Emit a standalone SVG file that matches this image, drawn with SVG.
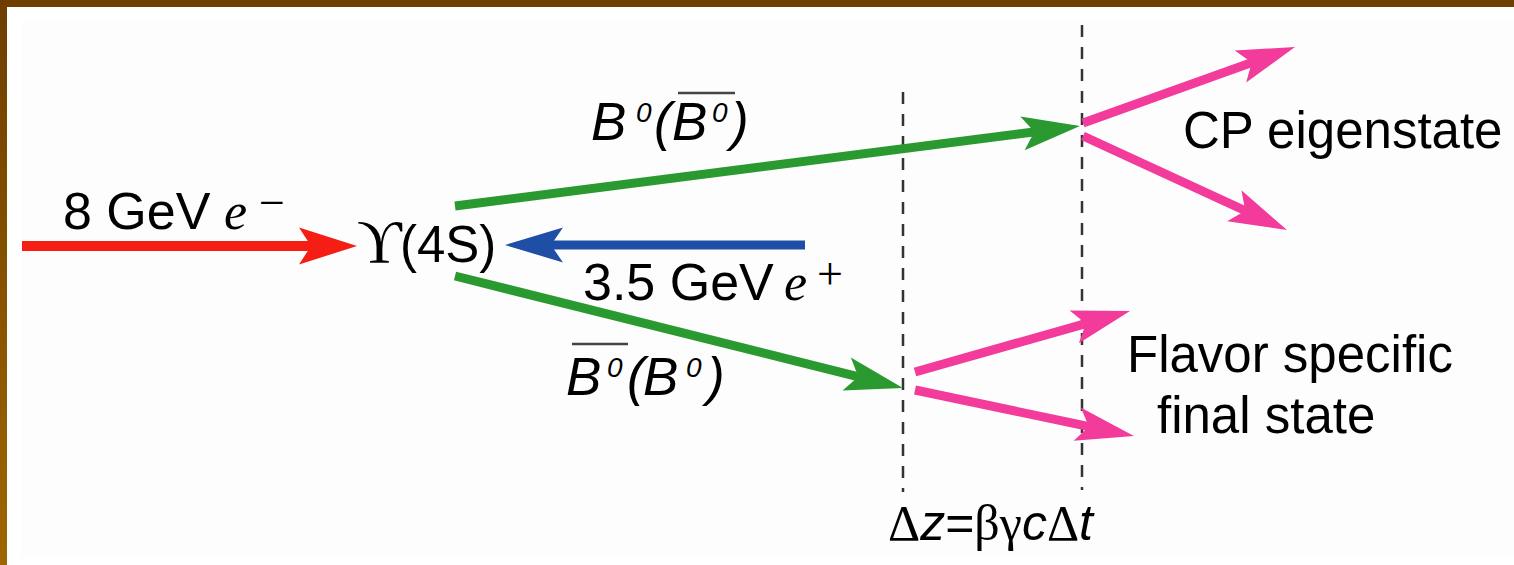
<svg xmlns="http://www.w3.org/2000/svg" width="1514" height="565" viewBox="0 0 1514 565">
<defs>
<linearGradient id="lg" x1="0" y1="0" x2="0" y2="1"><stop offset="0" stop-color="#6E3E00"/><stop offset="1" stop-color="#9E6600"/></linearGradient>
<marker id="hr" markerUnits="userSpaceOnUse" viewBox="-40 -20 70 40" refX="0" refY="0" markerWidth="70" markerHeight="40" orient="auto" overflow="visible"><path d="M25,0 L-33,-18.5 L-21,0 L-33,18.5 Z" fill="#F41E14"/></marker>
<marker id="hb" markerUnits="userSpaceOnUse" viewBox="-40 -20 70 40" refX="0" refY="0" markerWidth="70" markerHeight="40" orient="auto" overflow="visible"><path d="M25,0 L-33,-17.5 L-21,0 L-33,17.5 Z" fill="#1F4EA6"/></marker>
<marker id="hg" markerUnits="userSpaceOnUse" viewBox="-40 -20 70 40" refX="0" refY="0" markerWidth="70" markerHeight="40" orient="auto" overflow="visible"><path d="M25,0 L-33,-17 L-21,0 L-33,17 Z" fill="#2A9A30"/></marker>
<marker id="hp" markerUnits="userSpaceOnUse" viewBox="-40 -20 70 40" refX="0" refY="0" markerWidth="70" markerHeight="40" orient="auto" overflow="visible"><path d="M25,0 L-33,-17 L-21,0 L-33,17 Z" fill="#F23B9B"/></marker>
</defs>
<style>
.sans{font-family:"Liberation Sans",Arial,sans-serif;fill:#000}
.serif{font-family:"Liberation Serif","Times New Roman","DejaVu Serif",serif;fill:#000}
.it{font-style:italic}
.dash{stroke:#333;stroke-width:2.5;stroke-dasharray:12 10;fill:none}
.ov{stroke:#444;stroke-width:2.5}
.red{stroke:#F41E14;stroke-width:10;fill:none}
.blue{stroke:#1F4EA6;stroke-width:9;fill:none}
.green{stroke:#2A9A30;stroke-width:9;fill:none}
.pink{stroke:#F23B9B;stroke-width:9;fill:none}
</style>
<rect x="0" y="0" width="1514" height="565" fill="#FFFFFF"/>
<rect x="21" y="22" width="1493" height="535" fill="#FDFDFD"/>
<rect x="0" y="0" width="1514" height="7" fill="#6F3F00"/>
<rect x="0" y="0" width="7" height="565" fill="url(#lg)"/>

<g id="guides">
<line class="dash" x1="903" y1="92" x2="903" y2="492"/>
<line class="dash" x1="1082" y1="25" x2="1082" y2="490"/>
</g>

<g id="connectors">
<line class="red" x1="22" y1="246" x2="332" y2="246" marker-end="url(#hr)"/>
<line class="blue" x1="805" y1="245" x2="530" y2="245" marker-end="url(#hb)"/>
<line class="green" x1="455" y1="206" x2="1055.2" y2="129.2" marker-end="url(#hg)"/>
<line class="green" x1="455" y1="276" x2="878.7" y2="381.9" marker-end="url(#hg)"/>
<line class="pink" x1="1083" y1="123" x2="1271.5" y2="55.4" marker-end="url(#hp)"/>
<line class="pink" x1="1083" y1="136" x2="1264.3" y2="219.5" marker-end="url(#hp)"/>
<line class="pink" x1="915" y1="372" x2="1106" y2="317.8" marker-end="url(#hp)"/>
<line class="pink" x1="915" y1="390" x2="1109.5" y2="430.9" marker-end="url(#hp)"/>
</g>

<g id="electron">
<text class="sans" x="63" y="229" font-size="52">8 GeV</text>
<text class="serif it" x="224" y="229" font-size="52">e</text>
<text class="serif" x="259" y="218" font-size="46">−</text>
</g>

<g id="upsilon">
<text class="serif" x="357" y="262" font-size="62">ϒ</text>
<text class="sans" x="400" y="262" font-size="51">(4S)</text>
</g>

<g id="positron">
<text class="sans" x="583" y="300" font-size="52">3.5 GeV</text>
<text class="serif it" x="784" y="300" font-size="52">e</text>
<text class="serif" x="817" y="289" font-size="46">+</text>
</g>

<g id="b-upper">
<text class="sans it" x="591" y="140" font-size="53">B</text>
<text class="sans it" x="636" y="122" font-size="28">0</text>
<text class="sans it" x="654" y="140" font-size="53">(</text>
<text class="sans it" x="672" y="140" font-size="53">B</text>
<text class="sans it" x="712" y="122" font-size="28">0</text>
<text class="sans it" x="731" y="140" font-size="53">)</text>
<line class="ov" x1="678" y1="93" x2="735" y2="93"/>
</g>

<g id="b-lower">
<line class="ov" x1="572" y1="344" x2="628" y2="344"/>
<text class="sans it" x="566" y="395" font-size="53">B</text>
<text class="sans it" x="607" y="377" font-size="28">0</text>
<text class="sans it" x="627" y="395" font-size="53">(</text>
<text class="sans it" x="643" y="395" font-size="53">B</text>
<text class="sans it" x="686" y="377" font-size="28">0</text>
<text class="sans it" x="707" y="395" font-size="53">)</text>
</g>

<g id="cp">
<text class="sans" x="1183" y="148" font-size="51">CP eigenstate</text>
</g>

<g id="flavor">
<text class="sans" x="1127" y="372" font-size="51">Flavor specific</text>
<text class="sans" x="1157" y="433" font-size="51">final state</text>
</g>

<g id="deltaz">
<text x="888" y="540" font-size="50"><tspan class="serif">Δ</tspan><tspan class="sans it">z</tspan><tspan class="sans">=</tspan><tspan class="serif">βγ</tspan><tspan class="sans it">c</tspan><tspan class="serif">Δ</tspan><tspan class="sans it">t</tspan></text>
</g>
</svg>
